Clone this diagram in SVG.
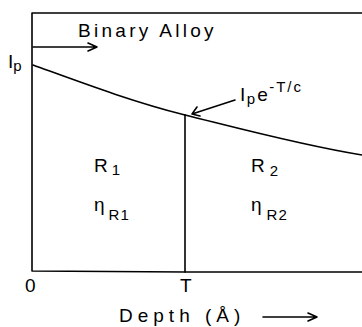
<svg xmlns="http://www.w3.org/2000/svg" width="362" height="327" viewBox="0 0 362 327">
<style>
.ln{fill:none;stroke:#000;stroke-width:1.6;stroke-linecap:round;stroke-linejoin:round}
.t{font-family:"Liberation Sans",Arial,sans-serif;fill:#000;font-size:19px;letter-spacing:2px}
.s{font-size:15px;letter-spacing:1px}
</style>
<rect width="362" height="327" fill="#fff"/>
<g id="connectors">
<path class="ln" d="M362,13 H32 V271 L185,272 L362,272"/>
<path class="ln" d="M33,65 C80,82 130,101 185,115"/>
<path class="ln" d="M185,115 C230,126 300,145 362,155"/>
<path class="ln" d="M185,115 V272"/>
<path class="ln" d="M33,47 H97 M88,43 L97,47 L88,51"/>
<path class="ln" d="M235,100 L192,114 M197,107 L192,114 L200,116"/>
<path class="ln" d="M263,317 H317 M308,313 L317,317 L308,321"/>
</g>
<g id="title"><text class="t" x="78" y="37" style="letter-spacing:3.3px">Binary Alloy</text></g>
<g id="ip"><text class="t" x="8" y="68" style="letter-spacing:0">I<tspan class="s" dy="3">p</tspan></text></g>
<g id="annot"><text class="t" x="240" y="101" style="letter-spacing:1.5px">I<tspan dy="3" class="s" style="letter-spacing:2px">p</tspan><tspan dy="-3">e</tspan><tspan dy="-9" class="s" style="letter-spacing:2px">-T/c</tspan></text></g>
<g id="r1"><text class="t" x="94" y="172">R<tspan class="s" dx="2" dy="3">1</tspan></text>
<text class="t" x="94" y="211">η<tspan class="s" dx="2" dy="9">R1</tspan></text></g>
<g id="r2"><text class="t" x="251" y="172">R<tspan class="s" dx="3" dy="4">2</tspan></text>
<text class="t" x="251" y="211">η<tspan class="s" dx="3" dy="9">R2</tspan></text></g>
<g id="ticks"><text class="t" x="25" y="292">0</text><text class="t" x="180" y="292">T</text></g>
<g id="xlabel"><text class="t" x="119" y="322" style="letter-spacing:5px">Depth (Å)</text></g>
</svg>
